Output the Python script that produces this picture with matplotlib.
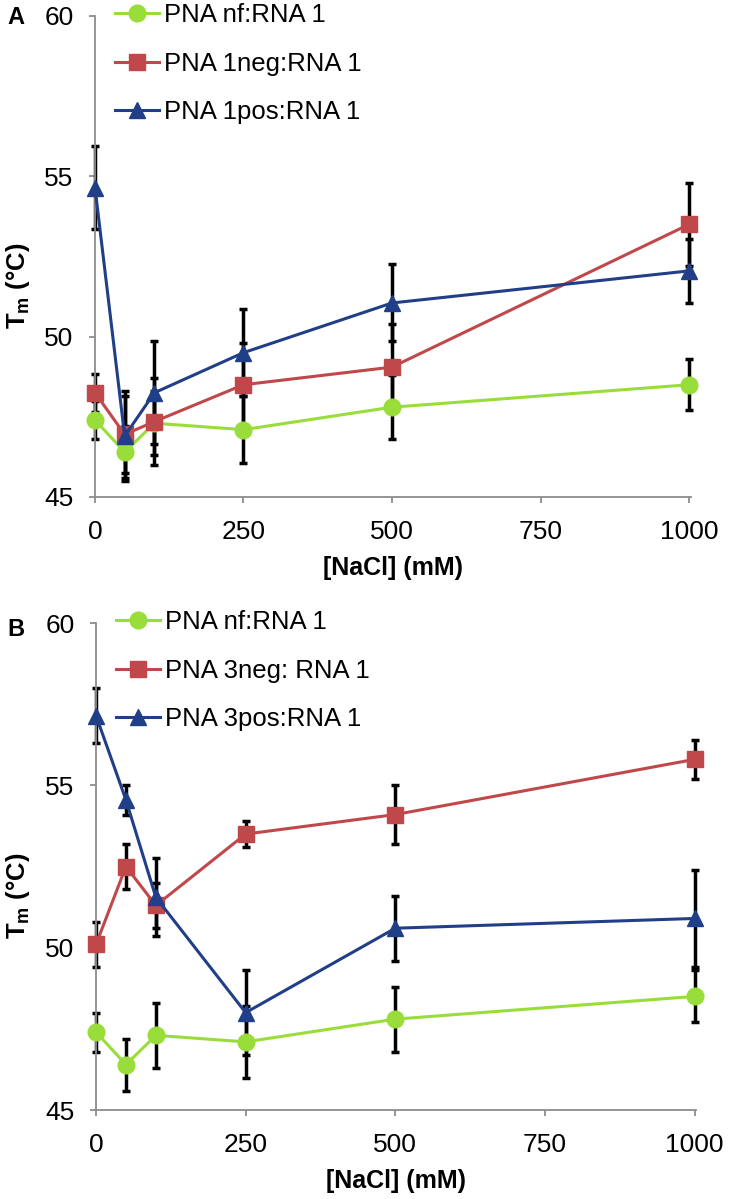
import numpy as np
import matplotlib.pyplot as plt

plt.rcParams['font.family'] = ['Liberation Sans', 'DejaVu Sans']
plt.rcParams['mathtext.fontset'] = 'custom'
plt.rcParams['mathtext.rm'] = 'Liberation Sans:bold'
plt.rcParams['mathtext.default'] = 'rm'

# NaCl concentration (mM)
nacl = [0, 50, 100, 250, 500, 1000]

# panel A
nf_a = [47.4, 46.4, 47.3, 47.1, 47.8, 48.5]
nf_a_err = [0.6, 0.8, 1.0, 1.05, 1.0, 0.8]
neg1 = [48.25, 46.95, 47.35, 48.5, 49.05, 53.5]
neg1_err = [0.6, 1.2, 1.35, 1.3, 1.35, 1.3]
pos1 = [54.65, 46.9, 48.25, 49.5, 51.05, 52.05]
pos1_err = [1.3, 1.4, 1.6, 1.35, 1.2, 1.0]

# panel B
nf_b = [47.4, 46.4, 47.3, 47.1, 47.8, 48.5]
nf_b_err = [0.6, 0.8, 1.0, 1.1, 1.0, 0.8]
neg3 = [50.1, 52.5, 51.3, 53.5, 54.1, 55.8]
neg3_err = [0.7, 0.7, 0.7, 0.4, 0.9, 0.6]
pos3 = [57.15, 54.55, 51.55, 48.0, 50.6, 50.9]
pos3_err = [0.85, 0.45, 1.2, 1.3, 1.0, 1.5]

labels_a = ['PNA nf:RNA 1', 'PNA 1neg:RNA 1', 'PNA 1pos:RNA 1']
labels_b = ['PNA nf:RNA 1', 'PNA 3neg: RNA 1', 'PNA 3pos:RNA 1']

green = '#99DD3A'
red = '#C0474A'
blue = '#213F88'
grey = '#8C8C8C'

fig = plt.figure(figsize=(7.29, 11.99), dpi=100)
ax_a = fig.add_axes([0.1303, 0.5855, 0.8173, 0.4012])
ax_b = fig.add_axes([0.1317, 0.0742, 0.8236, 0.4062])


def draw(ax, series, labels):
    for vals, errs in series:
        ax.errorbar(nacl, vals, yerr=errs, fmt='none', ecolor='black',
                    elinewidth=2.5, capsize=3, capthick=2.5, zorder=2,
                    clip_on=False)
    styles = [(green, 'o', 12), (red, 's', 11), (blue, '^', 12)]
    for (vals, errs), lab, (c, m, ms) in zip(series, labels, styles):
        ax.plot(nacl, vals, color=c, marker=m, markersize=ms, lw=2.2,
                label=lab, zorder=3, clip_on=False)
    ax.set_xlim(0, 1003)
    ax.set_ylim(45, 60)
    ax.set_xticks([0, 250, 500, 750, 1000])
    ax.set_yticks([45, 50, 55, 60])
    for s in ['top', 'right']:
        ax.spines[s].set_visible(False)
    for s in ['left', 'bottom']:
        ax.spines[s].set_color(grey)
        ax.spines[s].set_linewidth(1.3)
    ax.tick_params(colors=grey, labelcolor='black', labelsize=19,
                   length=4.5, width=1.3)
    ax.tick_params(axis='x', pad=12)
    ax.tick_params(axis='y', pad=11)
    ax.set_xlabel('[NaCl] (mM)', fontsize=18, fontweight='bold', labelpad=9)
    ax.set_ylabel('T$_m$ (°C)', fontsize=18.5, fontweight='bold')
    ax.yaxis.set_label_coords(-0.106, 0.44)
    ax.legend(loc='upper left', bbox_to_anchor=(0.034, 1.026), frameon=False,
              fontsize=18.5, handlelength=1.7, labelspacing=0.95,
              handletextpad=0.2, borderaxespad=0, borderpad=0)


draw(ax_a, [(nf_a, nf_a_err), (neg1, neg1_err), (pos1, pos1_err)], labels_a)
draw(ax_b, [(nf_b, nf_b_err), (neg3, neg3_err), (pos3, pos3_err)], labels_b)

fig.text(7 / 729, 1 - 17 / 1199, 'A', fontsize=17, fontweight='bold', va='center')
fig.text(7 / 729, 1 - 630 / 1199, 'B', fontsize=17, fontweight='bold', va='center')

fig.savefig('out.png', dpi=100)
